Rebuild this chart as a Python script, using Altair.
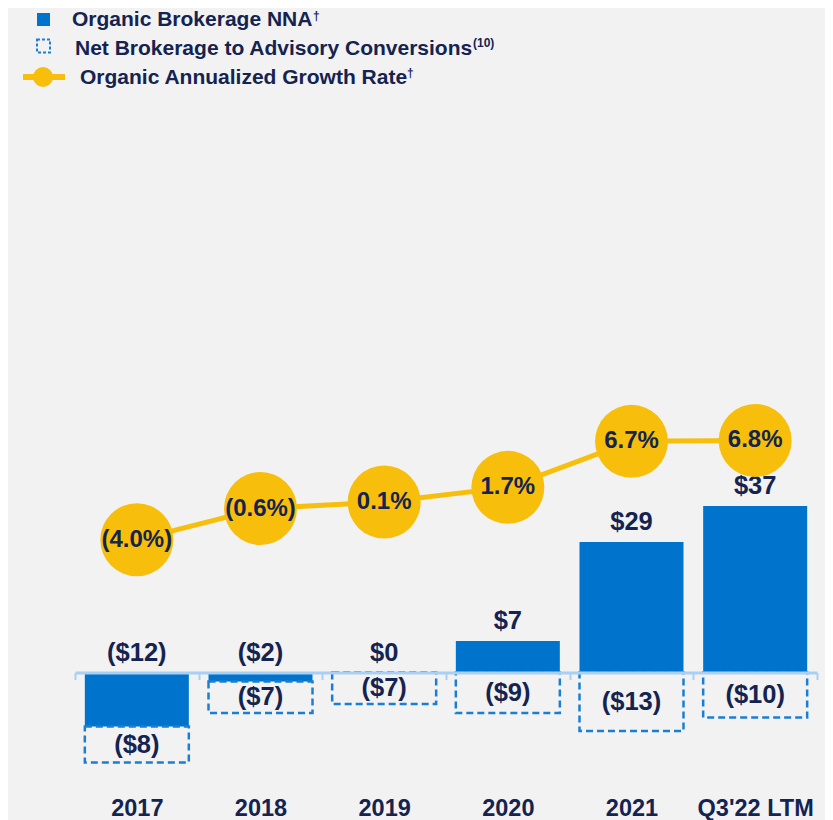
import altair as alt
import pandas as pd

# ---- data ----
categories = ["2017", "2018", "2019", "2020", "2021", "Q3'22 LTM"]
organic_nna = [-12, -2, 0, 7, 29, 37]
conversions = [-8, -7, -7, -9, -13, -10]
growth_rate = [-4.0, -0.6, 0.1, 1.7, 6.7, 6.8]

legend_labels = [
    "Organic Brokerage NNA",
    "Net Brokerage to Advisory Conversions",
    "Organic Annualized Growth Rate",
]
legend_marks = ["\u2020", "(10)", "\u2020"]

# ---- styles ----
NAVY = "#14234f"
BLUE = "#0074cc"
DASH_BLUE = "#1a7fd4"
YELLOW = "#f7bf0b"
AXIS_BLUE = "#a9d0f2"
BG = "#f2f2f2"
FONT = "Liberation Sans"


def money(v):
    return f"(${abs(v)})" if v < 0 else f"${v}"


def pct(v):
    return f"({abs(v):.1f}%)" if v < 0 else f"{v:.1f}%"


df = pd.DataFrame({"cat": categories, "nna": organic_nna, "conv": conversions, "g": growth_rate})
df["base"] = df["nna"].clip(upper=0)
df["bottom"] = df["base"] + df["conv"]
df["mid"] = (df["base"] + df["bottom"]) / 2
df["lab_y"] = df["nna"].clip(lower=0)
df["nna_lab"] = df["nna"].map(money)
df["conv_lab"] = df["conv"].map(money)
df["g_lab"] = df["g"].map(pct)

W, H = 742, 675
BAR = 104

x_enc = alt.X(
    "cat:N",
    sort=categories,
    scale=alt.Scale(paddingInner=0, paddingOuter=0),
    axis=alt.Axis(
        title=None,
        orient="bottom",
        offset=-112.5,
        domainColor=AXIS_BLUE,
        domainWidth=3,
        tickColor=AXIS_BLUE,
        tickWidth=2,
        tickSize=7,
        tickBand="extent",
        labelFont=FONT,
        labelFontSize=23.5,
        labelFontWeight="bold",
        labelColor=NAVY,
        labelPadding=117,
        labelAngle=0,
        zindex=1,
    ),
)

ys = alt.Scale(domain=[-25, 125], nice=False, zero=False)
yl = alt.Scale(domain=[-30.652, 42.717], nice=False, zero=False)

base = alt.Chart(df)

bars = base.mark_bar(size=BAR, color=BLUE).encode(
    x=x_enc,
    y=alt.Y("nna:Q", scale=ys, axis=None),
    y2=alt.datum(0),
)

boxes = base.mark_bar(
    size=BAR, fill=BG, fillOpacity=0, stroke=DASH_BLUE, strokeWidth=2.5, strokeDash=[7, 4]
).encode(
    x=x_enc,
    y=alt.Y("base:Q", scale=ys, axis=None),
    y2="bottom:Q",
)

nna_text = base.mark_text(
    font=FONT, fontSize=25.5, fontWeight="bold", color=NAVY, baseline="alphabetic", dy=-12
).encode(
    x=x_enc,
    y=alt.Y("lab_y:Q", scale=ys, axis=None),
    text="nna_lab:N",
)

conv_text = base.mark_text(
    font=FONT, fontSize=25.5, fontWeight="bold", color=NAVY, baseline="middle"
).encode(
    x=x_enc,
    y=alt.Y("mid:Q", scale=ys, axis=None),
    text="conv_lab:N",
)

line = base.mark_line(color=YELLOW, strokeWidth=5).encode(
    x=x_enc,
    y=alt.Y("g:Q", scale=yl, axis=None),
)
dots = base.mark_circle(color=YELLOW, opacity=1, size=73 ** 2).encode(
    x=x_enc,
    y=alt.Y("g:Q", scale=yl, axis=None),
)
g_text = base.mark_text(
    font=FONT, fontSize=24, fontWeight="bold", color=NAVY, baseline="middle"
).encode(
    x=x_enc,
    y=alt.Y("g:Q", scale=yl, axis=None),
    text="g_lab:N",
)

# ---- legend (drawn items, pixel layout) ----
one = alt.Chart(pd.DataFrame({"k": [0]}))
leg_sq = one.mark_point(shape="square", filled=True, color=BLUE, size=169, opacity=1).encode(
    x=alt.value(-31.5), y=alt.value(-90.5)
)
leg_dash = one.mark_point(
    shape="square", filled=False, color=DASH_BLUE, size=169, strokeWidth=2, strokeDash=[3, 2], opacity=1
).encode(x=alt.value(-31.5), y=alt.value(-64))
leg_line = one.mark_rule(color=YELLOW, strokeWidth=6).encode(
    x=alt.value(-52), x2=alt.value(-10), y=alt.value(-33)
)
leg_dot = one.mark_circle(color=YELLOW, size=20 ** 2, opacity=1).encode(
    x=alt.value(-32), y=alt.value(-33)
)
leg_styles = dict(font=FONT, fontSize=21, fontWeight="bold", color=NAVY, align="left", baseline="alphabetic")
sup_styles = dict(font=FONT, fontSize=12, fontWeight="bold", color=NAVY, align="left", baseline="alphabetic")
leg_t1 = one.mark_text(**leg_styles).encode(x=alt.value(-3), y=alt.value(-84), text=alt.value(legend_labels[0]))
leg_t2 = one.mark_text(**leg_styles).encode(x=alt.value(0), y=alt.value(-55), text=alt.value(legend_labels[1]))
leg_t3 = one.mark_text(**leg_styles).encode(x=alt.value(5), y=alt.value(-26), text=alt.value(legend_labels[2]))
leg_s1 = one.mark_text(**sup_styles).encode(x=alt.value(238), y=alt.value(-90), text=alt.value(legend_marks[0]))
leg_s2 = one.mark_text(**sup_styles).encode(x=alt.value(398), y=alt.value(-63), text=alt.value(legend_marks[1]))
leg_s3 = one.mark_text(**sup_styles).encode(x=alt.value(332), y=alt.value(-33), text=alt.value(legend_marks[2]))

main = alt.layer(bars, boxes, nna_text, conv_text)
growth = alt.layer(line, dots, g_text)

chart = (
    alt.layer(
        main, growth,
        leg_sq, leg_dash, leg_line, leg_dot,
        leg_t1, leg_t2, leg_t3, leg_s1, leg_s2, leg_s3,
    )
    .resolve_scale(y="independent")
    .properties(
        width=W,
        height=H,
        autosize=alt.AutoSizeParams(type="none"),
        padding={"left": 67, "top": 102, "right": 8, "bottom": 35},
        background=BG,
    )
    .configure_view(stroke=None)
)

chart.save("out.html", embed_options={"renderer": "svg", "actions": False})
